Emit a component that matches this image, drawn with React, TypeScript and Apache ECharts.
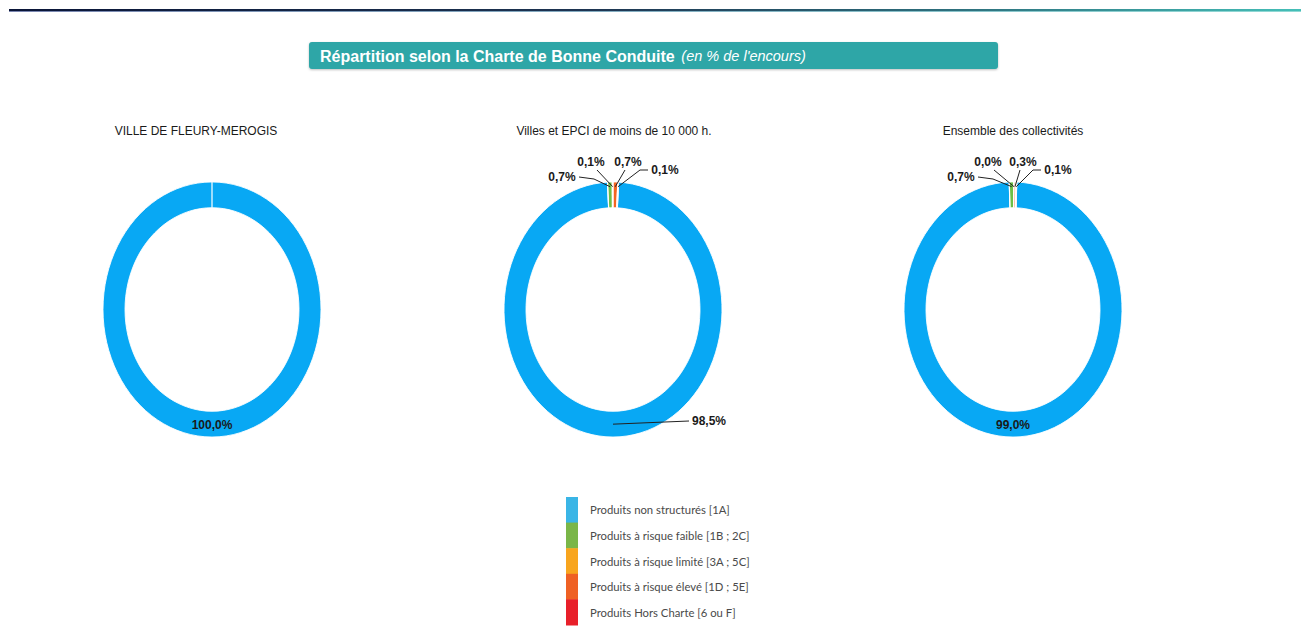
import React, { useEffect, useRef } from "react";
import * as echarts from "echarts";

// ---------- DATA ----------
const categories = [
  "Produits non structurés [1A]",
  "Produits à risque faible [1B ; 2C]",
  "Produits à risque limité [3A ; 5C]",
  "Produits à risque élevé [1D ; 5E]",
  "Produits Hors Charte [6 ou F]",
];
const panelTitles = [
  "VILLE DE FLEURY-MEROGIS",
  "Villes et EPCI de moins de 10 000 h.",
  "Ensemble des collectivités",
];
const fleuryValues = [100.0];
const villesValues = [98.5, 0.7, 0.1, 0.7, 0.1];
const ensembleValues = [99.0, 0.7, 0.0, 0.3, 0.1];

const chartTitle = "Répartition selon la Charte de Bonne Conduite";
const chartSubtitle = "(en % de l'encours)";

// ---------- STYLE / LAYOUT ----------
const sliceColors = ["#08A8F4", "#6CBF47", "#F9A51B", "#F26522", "#E4222B"];
const legendColors = ["#3AB5E6", "#7AB648", "#F8A51E", "#EF6124", "#E8202A"];
const R = 109;
const R0 = 87;
const K = 1.17; // vertical stretch of the donuts

type LabelSpec = {
  inside?: boolean;
  tx?: number;
  ty?: number;
  align?: string;
  elbow?: number[][];
  mid?: boolean;
};

const panels: { cx: number; cy: number; titleX: number; values: number[]; labels: LabelSpec[] }[] = [
  { cx: 212, cy: 309.5, titleX: 196, values: fleuryValues, labels: [{ inside: true }] },
  {
    cx: 613,
    cy: 309.5,
    titleX: 614,
    values: villesValues,
    labels: [
      { tx: 79, ty: 111.5, align: "left", elbow: [[-3, 0]], mid: true },
      { tx: -51, ty: -132.5, align: "center", elbow: [[17, 0], [32, 2]] },
      { tx: -22, ty: -147.5, align: "center", elbow: [[6, 8]] },
      { tx: 15, ty: -147.5, align: "center", elbow: [[-3, 8]] },
      { tx: 52, ty: -139.5, align: "center", elbow: [[-17, 0], [-25, 0]] },
    ],
  },
  {
    cx: 1013,
    cy: 309.5,
    titleX: 1013,
    values: ensembleValues,
    labels: [
      { inside: true },
      { tx: -52, ty: -132.5, align: "center", elbow: [[17, 0], [32, 2]] },
      { tx: -25, ty: -147.5, align: "center", elbow: [[6, 8]] },
      { tx: 10, ty: -147.5, align: "center", elbow: [[-3, 8]] },
      { tx: 45, ty: -139.5, align: "center", elbow: [[-17, 0], [-25, 0]] },
    ],
  },
];

const fmt = (v: number) => v.toFixed(1).replace(".", ",") + "%";
const labelFont = "bold 12px 'Liberation Sans', Arial, sans-serif";

function donutSeries(p: (typeof panels)[number]) {
  const values = p.values;
  const total = values.reduce((a, b) => a + b, 0);
  const start = Math.PI / 2 - (values[0] / total) * Math.PI;
  return {
    type: "custom",
    coordinateSystem: "none",
    data: values.map((v) => [v]),
    renderItem: (params: any, api: any) => {
      const i = params.dataIndex;
      const v = api.value(0);
      let a0 = start;
      for (let j = 0; j < i; j++) a0 += (values[j] / total) * 2 * Math.PI;
      const a1 = a0 + (v / total) * 2 * Math.PI;
      const am = (a0 + a1) / 2;
      const children: any[] = [
        {
          type: "group",
          x: p.cx,
          y: p.cy,
          scaleY: K,
          children: [
            {
              type: "sector",
              shape: { cx: 0, cy: 0, r: R, r0: R0, startAngle: a0, endAngle: a1, clockwise: true },
              style: { fill: sliceColors[i], stroke: "#ffffff", lineWidth: 0.8 },
            },
            {
              type: "line",
              shape: {
                x1: R0 * Math.cos(a0),
                y1: R0 * Math.sin(a0),
                x2: R * Math.cos(a0),
                y2: R * Math.sin(a0),
              },
              style: { stroke: "#ffffff", lineWidth: 1.2 },
            },
          ],
        },
      ];
      const spec = p.labels[i];
      if (spec) {
        if (spec.inside) {
          const rm = (R + R0) / 2;
          children.push({
            type: "text",
            x: p.cx + rm * Math.cos(am),
            y: p.cy + K * rm * Math.sin(am) + 1,
            z2: 10,
            style: {
              text: fmt(v),
              font: labelFont,
              fill: "#1a1a1a",
              textAlign: "center",
              textVerticalAlign: "middle",
              align: "center",
              verticalAlign: "middle",
            },
          });
        } else {
          const ra = spec.mid ? (R + R0) / 2 : R - 4;
          const ax = p.cx + ra * Math.cos(am);
          const ay = p.cy + K * ra * Math.sin(am);
          const tx = p.cx + (spec.tx as number);
          const ty = p.cy + (spec.ty as number);
          const pts = (spec.elbow || []).map((e) => [tx + e[0], ty + e[1]]);
          pts.push([ax, ay]);
          children.push({
            type: "polyline",
            z2: 9,
            shape: { points: pts },
            style: { stroke: "#222222", lineWidth: 1, fill: null },
          });
          children.push({
            type: "text",
            x: tx,
            y: ty,
            z2: 10,
            style: {
              text: fmt(v),
              font: labelFont,
              fill: "#1a1a1a",
              textAlign: spec.align,
              textVerticalAlign: "middle",
              align: spec.align,
              verticalAlign: "middle",
            },
          });
        }
      }
      return { type: "group", children };
    },
  };
}

export default function App() {
  const ref = useRef<HTMLDivElement>(null);
  useEffect(() => {
    if (!ref.current) return;
    const chart = echarts.init(ref.current, undefined, { renderer: "svg" });

    const legendTop = 497;
    const legendStep = 25.6;
    const graphics: any[] = [
      {
        type: "rect",
        shape: { x: 9, y: 9, width: 1292, height: 2 },
        style: {
          fill: new echarts.graphic.LinearGradient(0, 0, 1, 0, [
            { offset: 0, color: "#0A1538" },
            { offset: 0.45, color: "#1E3552" },
            { offset: 0.75, color: "#2F7480" },
            { offset: 1, color: "#45BFB8" },
          ]),
        },
      },
      {
        type: "rect",
        shape: { x: 9, y: 11, width: 1292, height: 1 },
        style: {
          fill: new echarts.graphic.LinearGradient(0, 0, 1, 0, [
            { offset: 0, color: "#7A86B0" },
            { offset: 1, color: "#8FD9D4" },
          ]),
        },
      },
      {
        type: "rect",
        shape: { x: 309, y: 42, width: 689, height: 27, r: 3 },
        style: { fill: "#2FA6A7", shadowBlur: 2, shadowColor: "rgba(0,0,0,0.25)", shadowOffsetY: 1 },
      },
      {
        type: "text",
        x: 320,
        y: 56,
        style: {
          text: "{b|" + chartTitle + "}  {i|" + chartSubtitle + "}",
          textVerticalAlign: "middle",
          verticalAlign: "middle",
          rich: {
            b: { font: "bold 16px 'Liberation Sans', Arial, sans-serif", fill: "#ffffff", color: "#ffffff" },
            i: { font: "italic 14.5px 'Liberation Sans', Arial, sans-serif", fill: "#ffffff", color: "#ffffff" },
          },
        },
      },
    ];
    panels.forEach((p, idx) => {
      graphics.push({
        type: "text",
        x: p.titleX,
        y: 131,
        style: {
          text: panelTitles[idx],
          font: "12px 'Liberation Sans', Arial, sans-serif",
          fill: "#1a1a1a",
          textAlign: "center",
          textVerticalAlign: "middle",
          align: "center",
          verticalAlign: "middle",
        },
      });
    });
    categories.forEach((c, i) => {
      graphics.push({
        type: "rect",
        shape: { x: 566, y: legendTop + i * legendStep, width: 12, height: legendStep + 0.5 },
        style: { fill: legendColors[i] },
      });
      graphics.push({
        type: "text",
        x: 590,
        y: legendTop + i * legendStep + legendStep / 2,
        style: {
          text: c,
          font: "11.3px Lato, 'Liberation Sans Narrow', sans-serif",
          fill: "#4a4a4a",
          textVerticalAlign: "middle",
          verticalAlign: "middle",
        },
      });
    });

    chart.setOption({
      animation: false,
      backgroundColor: "#ffffff",
      graphic: graphics,
      series: panels.map((p) => donutSeries(p)),
    });
    return () => chart.dispose();
  }, []);
  return (
    <div
      ref={ref}
      style={{ position: "absolute", left: 0, top: 0, width: 1301, height: 631 }}
    />
  );
}
